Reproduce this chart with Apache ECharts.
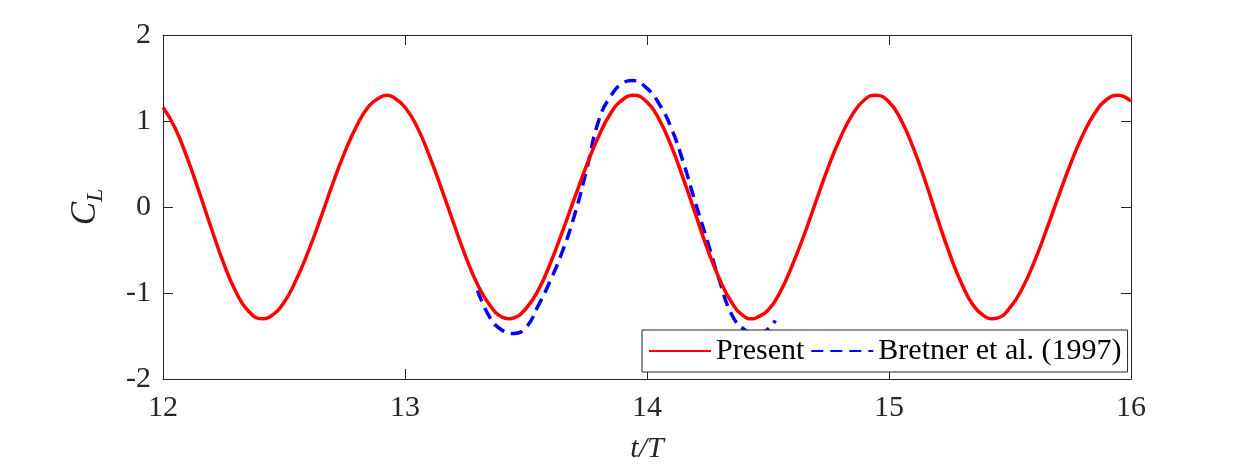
<!DOCTYPE html>
<html>
<head>
<meta charset="utf-8">
<script src="https://cdn.jsdelivr.net/npm/echarts@6/dist/echarts.min.js"></script>
<style>
  html, body { margin: 0; padding: 0; background: #fff; }
  #chart { width: 1250px; height: 469px; }
</style>
</head>
<body>
<div id="chart"></div>
<script>
// lift coefficient vs t/T (extra points at the peaks/troughs)
var present_t = [
    12.00, 12.05, 12.10, 12.15, 12.20, 12.25, 12.30, 12.35, 12.41, 12.45,
    12.50, 12.55, 12.60, 12.65, 12.70, 12.75, 12.80, 12.85, 12.90, 12.925, 12.95,
    13.00, 13.05, 13.10, 13.15, 13.20, 13.25, 13.30, 13.35, 13.40, 13.43, 13.45,
    13.50, 13.55, 13.60, 13.65, 13.70, 13.75, 13.80, 13.85, 13.90, 13.945,
    14.00, 14.05, 14.10, 14.15, 14.20, 14.25, 14.30, 14.35, 14.40, 14.435, 14.45,
    14.50, 14.55, 14.60, 14.65, 14.70, 14.75, 14.80, 14.85, 14.90, 14.945,
    15.00, 15.05, 15.10, 15.15, 15.20, 15.25, 15.30, 15.35, 15.40, 15.425, 15.45,
    15.50, 15.55, 15.60, 15.65, 15.70, 15.75, 15.80, 15.85, 15.90, 15.945,
    16.00
];
var present_cl = [
    1.16, 0.92, 0.57, 0.17, -0.25, -0.65, -0.98, -1.20, -1.30, -1.26,
    -1.11, -0.85, -0.52, -0.14, 0.26, 0.63, 0.94, 1.17, 1.28, 1.30, 1.28,
    1.16, 0.93, 0.60, 0.22, -0.18, -0.57, -0.90, -1.14, -1.28, -1.30, -1.29,
    -1.18, -0.97, -0.66, -0.29, 0.10, 0.48, 0.82, 1.09, 1.25, 1.30,
    1.22, 1.02, 0.71, 0.33, -0.08, -0.49, -0.84, -1.11, -1.27, -1.30, -1.29,
    -1.20, -0.99, -0.68, -0.32, 0.08, 0.47, 0.81, 1.08, 1.25, 1.30,
    1.22, 1.01, 0.69, 0.30, -0.13, -0.54, -0.89, -1.15, -1.28, -1.30, -1.29,
    -1.17, -0.95, -0.64, -0.27, 0.12, 0.50, 0.83, 1.09, 1.25, 1.30,
    1.23
];

var bretner_t = [
    13.30, 13.35, 13.40, 13.45, 13.50, 13.55, 13.60, 13.65, 13.70, 13.75,
    13.80, 13.85, 13.90, 13.94, 14.00, 14.05, 14.10, 14.15, 14.20, 14.25,
    14.30, 14.35, 14.40, 14.45, 14.50, 14.53
];
var bretner_cl = [
    -0.97, -1.28, -1.43, -1.47, -1.40, -1.15, -0.86, -0.52, -0.10, 0.43,
    1.00, 1.29, 1.44, 1.47, 1.38, 1.20, 0.92, 0.52, 0.05, -0.40,
    -0.86, -1.25, -1.42, -1.48, -1.42, -1.32
];

var series_names = ['Present', 'Bretner et al. (1997)'];

function pairs(xs, ys) {
    var out = [];
    for (var i = 0; i < xs.length; i++) {
        out.push([xs[i], ys[i]]);
    }
    return out;
}

var FONT = 'Liberation Serif';
var AX = '#262626';

var chart = echarts.init(document.getElementById('chart'), null, { renderer: 'canvas' });

var option = {
    animation: false,
    backgroundColor: '#ffffff',
    grid: {
        left: 163,
        top: 35,
        width: 968,
        height: 344
    },
    legend: {
        left: 642,
        top: 330,
        orient: 'horizontal',
        padding: [6, 6, 6, 6],
        itemWidth: 62,
        itemHeight: 20,
        itemGap: 6,
        backgroundColor: '#ffffff',
        borderColor: AX,
        borderWidth: 1,
        borderRadius: 0,
        // hide the marker circle that line legends draw
        itemStyle: { opacity: 0 },
        data: series_names,
        textStyle: {
            fontFamily: FONT,
            fontSize: 30,
            color: '#000000'
        }
    },
    xAxis: [
        {
            type: 'value',
            min: 12,
            max: 16,
            interval: 1,
            name: 't/T',
            nameLocation: 'middle',
            nameGap: 55,
            nameTextStyle: {
                fontFamily: FONT,
                fontStyle: 'italic',
                fontSize: 30,
                color: AX
            },
            axisLine: { show: true, onZero: false, lineStyle: { color: AX, width: 1 } },
            axisTick: { show: true, inside: true, length: 10, lineStyle: { color: AX } },
            axisLabel: { fontFamily: FONT, fontSize: 30, color: AX, margin: 14 },
            splitLine: { show: false }
        },
        {
            type: 'value',
            position: 'top',
            min: 12,
            max: 16,
            interval: 1,
            axisLine: { show: true, onZero: false, lineStyle: { color: AX, width: 1 } },
            axisTick: { show: true, inside: true, length: 10, lineStyle: { color: AX } },
            axisLabel: { show: false },
            splitLine: { show: false }
        }
    ],
    yAxis: [
        {
            type: 'value',
            min: -2,
            max: 2,
            interval: 1,
            name: '{c|C}{l|L}',
            nameLocation: 'middle',
            nameRotate: 90,
            nameGap: 55,
            nameTextStyle: {
                fontFamily: FONT,
                color: AX,
                rich: {
                    c: { fontFamily: FONT, fontStyle: 'italic', fontSize: 35, color: AX, verticalAlign: 'top', lineHeight: 40 },
                    l: { fontFamily: FONT, fontStyle: 'italic', fontSize: 24, color: AX, verticalAlign: 'bottom', lineHeight: 40, padding: [14, 0, 0, 0] }
                }
            },
            axisLine: { show: true, onZero: false, lineStyle: { color: AX, width: 1 } },
            axisTick: { show: true, inside: true, length: 10, lineStyle: { color: AX } },
            axisLabel: { fontFamily: FONT, fontSize: 30, color: AX, margin: 12 },
            splitLine: { show: false }
        },
        {
            type: 'value',
            position: 'right',
            min: -2,
            max: 2,
            interval: 1,
            axisLine: { show: true, onZero: false, lineStyle: { color: AX, width: 1 } },
            axisTick: { show: true, inside: true, length: 10, lineStyle: { color: AX } },
            axisLabel: { show: false },
            splitLine: { show: false }
        }
    ],
    series: [
        {
            name: series_names[0],
            type: 'line',
            xAxisIndex: 0,
            yAxisIndex: 0,
            data: pairs(present_t, present_cl),
            smooth: 0.5,
            symbol: 'none',
            showSymbol: false,
            color: '#ff0000',
            lineStyle: { color: '#ff0000', width: 3.5 },
            z: 3
        },
        {
            name: series_names[1],
            type: 'line',
            xAxisIndex: 0,
            yAxisIndex: 0,
            data: pairs(bretner_t, bretner_cl),
            smooth: 0.5,
            symbol: 'none',
            showSymbol: false,
            color: '#0000ff',
            lineStyle: { color: '#0000ff', width: 3.5, type: [12, 7] },
            z: 2
        }
    ]
};

chart.setOption(option);
</script>
</body>
</html>
